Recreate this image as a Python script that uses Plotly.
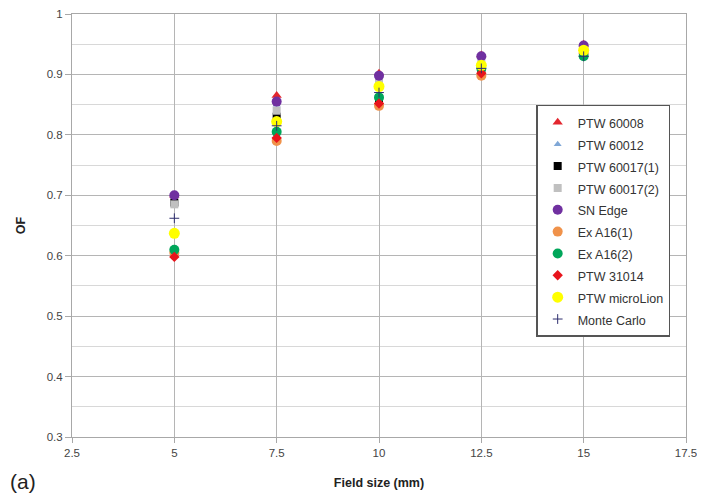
import plotly.graph_objects as go

field_sizes = [5, 7.5, 10, 12.5, 15]

ptw_60008 = [0.700, 0.865, 0.902, 0.932, 0.950]
ptw_60012 = [0.690, 0.850, 0.895, 0.928, 0.945]
ptw_60017_1 = [0.688, 0.830, 0.860, 0.905, 0.935]
ptw_60017_2 = [0.685, 0.840, 0.890, 0.920, 0.942]
sn_edge = [0.700, 0.855, 0.898, 0.930, 0.948]
ex_a16_1 = [0.605, 0.790, 0.848, 0.898, 0.935]
ex_a16_2 = [0.610, 0.805, 0.862, 0.910, 0.930]
ptw_31014 = [0.598, 0.795, 0.852, 0.902, 0.940]
ptw_microlion = [0.637, 0.822, 0.880, 0.915, 0.940]
monte_carlo = [0.662, 0.815, 0.870, 0.910, 0.930]

series = [
    ("PTW 60008", ptw_60008, "triangle-up", "#e3262e", 9),
    ("PTW 60012", ptw_60012, "triangle-up", "#7fa7d6", 7),
    ("PTW 60017(1)", ptw_60017_1, "square", "#000000", 8),
    ("PTW 60017(2)", ptw_60017_2, "square", "#c0c0c0", 8),
    ("SN Edge", sn_edge, "circle", "#7030a0", 10),
    ("Ex A16(1)", ex_a16_1, "circle", "#f0924a", 10),
    ("Ex A16(2)", ex_a16_2, "circle", "#00a65a", 10),
    ("PTW 31014", ptw_31014, "diamond", "#e8141c", 8),
    ("PTW microLion", ptw_microlion, "circle", "#ffff00", 11),
]

def label(s):
    return '<span style="font-size:12.5px">' + s + '</span>'

fig = go.Figure()
for name, vals, sym, col, sz in series:
    fig.add_trace(go.Scatter(
        x=field_sizes, y=vals, mode="markers", name=label(name),
        marker=dict(symbol=sym, color=col, size=sz, line=dict(width=0)),
    ))
fig.add_trace(go.Scatter(
    x=field_sizes, y=monte_carlo, mode="markers", name=label("Monte Carlo"),
    marker=dict(symbol="cross-thin", size=7, line=dict(width=1, color="#2e2e6e")),
))

# page has an 8px body offset: figure is shifted accordingly
fig.update_layout(
    width=697, height=486,
    margin=dict(l=64, r=19, t=6, b=57),
    paper_bgcolor="white", plot_bgcolor="white",
    font=dict(family="Liberation Sans, Arial, sans-serif", size=11, color="#444"),
    showlegend=True,
    legend=dict(
        x=0.756, y=0.785, xanchor="left", yanchor="top",
        bgcolor="white", bordercolor="#555", borderwidth=1.5,
        font=dict(size=14.5, color="#333"),
        itemsizing="trace",
        tracegroupgap=0,
    ),
    xaxis=dict(
        range=[2.5, 17.5], tickvals=[2.5, 5, 7.5, 10, 12.5, 15, 17.5],
        ticktext=["2.5", "5", "7.5", "10", "12.5", "15", "17.5"],
        automargin=False, ticklabeloverflow="allow",
        showgrid=True, gridcolor="#b5b5b5", gridwidth=1,
        showline=True, mirror=True, linecolor="#a8a8a8", linewidth=1,
        ticks="outside", ticklen=5, tickcolor="#a8a8a8",
        zeroline=False, tickfont=dict(size=11.5, color="#444"),
        title=dict(text="<b>Field size (mm)</b>", font=dict(size=12.5, color="#222"), standoff=20),
    ),
    yaxis=dict(
        range=[0.3, 1.0], tickvals=[0.3, 0.4, 0.5, 0.6, 0.7, 0.8, 0.9, 1.0],
        ticktext=["0.3", "0.4", "0.5", "0.6", "0.7", "0.8", "0.9", "1"],
        automargin=False, ticklabeloverflow="allow",
        showgrid=True, gridcolor="#b5b5b5", gridwidth=1.2,
        minor=dict(dtick=0.05, showgrid=True, gridcolor="#d8d8d8", gridwidth=1, ticks=""),
        showline=True, mirror=True, linecolor="#a8a8a8", linewidth=1,
        ticks="outside", ticklen=6, tickcolor="#a8a8a8",
        zeroline=False, tickfont=dict(size=11.5, color="#444"),
        title=dict(text="<b>OF</b>", font=dict(size=12.5, color="#222"), standoff=18),
    ),
)
fig.layout.annotations = [dict(
    text="(a)", x=-0.104, y=-0.073, xref="paper", yref="paper",
    xanchor="left", yanchor="top", showarrow=False,
    font=dict(size=21, color="#222"),
)]

fig.write_html("out.html")
